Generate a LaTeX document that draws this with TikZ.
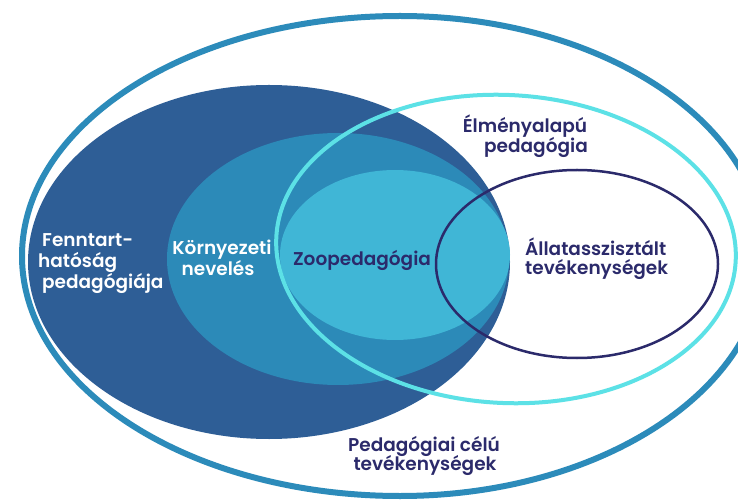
\documentclass[tikz,border=0pt]{standalone}
\usepackage{fontspec}
\setmainfont{Poppins}[UprightFont=* SemiBold]
\definecolor{darkb}{HTML}{2E5E96}
\definecolor{medb}{HTML}{2C8AB8}
\definecolor{lightb}{HTML}{40B6D6}
\definecolor{cyanr}{HTML}{5CE1E6}
\definecolor{navy}{HTML}{2B2A6B}
\definecolor{ringc}{HTML}{2C8BBA}
\begin{document}
\begin{tikzpicture}[x=1pt,y=-1pt,
  lbl/.style={inner sep=0pt, font=\fontsize{18.5}{20}\selectfont},
  wlbl/.style={lbl, text=white},
  nlbl/.style={lbl, text=navy}]
\useasboundingbox (0,0) rectangle (738,502);
\clip (0,0) rectangle (738,502);
\fill[white] (0,0) rectangle (738,502);
% filled nested ellipses
\fill[darkb] (269,262) ellipse [x radius=241, y radius=177];
\fill[medb] (338,259) ellipse [x radius=171, y radius=126];
\fill[lightb] (395,255) ellipse [x radius=115, y radius=85];
% outlines
\draw[cyanr, line width=4pt, rotate around={-3:(506,249)}] (506,249) ellipse [x radius=230, y radius=154];
\draw[navy, line width=2.5pt] (577,264) ellipse [x radius=141, y radius=94];
\begin{scope}
  \clip (0,0) rectangle (400,502);
  \draw[ringc, line width=6pt] (400,256) ellipse [x radius=378, y radius=240];
\end{scope}
\begin{scope}
  \clip (400,0) rectangle (738,502);
  \draw[ringc, line width=6pt] (400,256) ellipse [x radius=365, y radius=240];
\end{scope}
% labels
\node[wlbl, anchor=base west] (f1) at (42,247) {Fenntart-};
\node[wlbl, anchor=base west] (f2) at (38,268) {hatóság};
\node[wlbl, anchor=base west] (f3) at (42,288) {pedagógiája};
\node[wlbl, anchor=base] (k1) at (222,255) {Környezeti};
\node[wlbl, anchor=base] (k2) at (218,276) {nevelés};
\node[nlbl, anchor=base] (z1) at (362,266) {Zoopedagógia};
\node[nlbl, anchor=base] (e1) at (525,133) {Élményalapú};
\node[nlbl, anchor=base] (e2) at (536,153) {pedagógia};
\node[nlbl, anchor=base west] (a1) at (525,256) {Állatasszisztált};
\node[nlbl, anchor=base west] (a2) at (525,275) {tevékenységek};
\node[nlbl, anchor=base] (p1) at (424,451) {Pedagógiai célú};
\node[nlbl, anchor=base] (p2) at (425,470) {tevékenységek};
\end{tikzpicture}
\end{document}
